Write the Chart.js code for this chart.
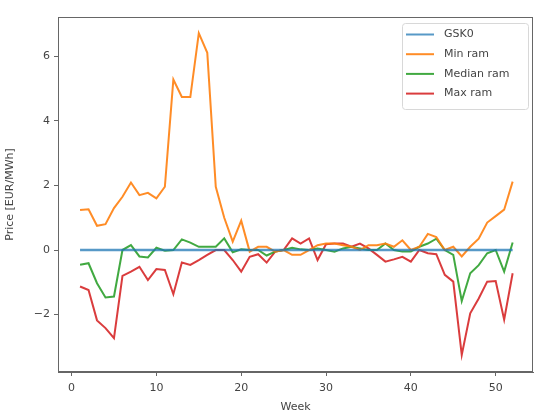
<!DOCTYPE html>
<html>
<head>
<meta charset="utf-8">
<script src="https://cdn.jsdelivr.net/npm/chart.js@4.4.1/dist/chart.umd.min.js"></script>
<style>
  html, body { margin: 0; padding: 0; background: #fff; }
  #wrap { width: 534px; height: 417px; }
</style>
</head>
<body>
<div id="wrap"><canvas id="priceChart" width="534" height="417"></canvas></div>
<script>
// Weekly price data
const weeks = Array.from({ length: 52 }, (_, i) => i + 1);
const gsk0 = weeks.map(() => 0);
const minRam = [1.24, 1.26, 0.75, 0.8, 1.3, 1.65, 2.09, 1.7, 1.77, 1.6,
                1.96, 5.28, 4.74, 4.74, 6.72, 6.11, 1.96, 1.0, 0.26, 0.91,
                -0.05, 0.1, 0.1, -0.05, 0.0, -0.15, -0.15, 0.0, 0.15, 0.2,
                0.2, 0.15, 0.1, 0.0, 0.15, 0.15, 0.2, 0.1, 0.3, 0.0,
                0.1, 0.5, 0.4, 0.0, 0.1, -0.2, 0.1, 0.35, 0.85, 1.05,
                1.25, 2.12];
const medianRam = [-0.46, -0.41, -1.03, -1.47, -1.44, 0.0, 0.15, -0.2, -0.23, 0.07,
                   -0.02, 0.0, 0.33, 0.23, 0.1, 0.1, 0.1, 0.36, -0.07, 0.02,
                   0.0, 0.0, -0.17, -0.05, 0.0, 0.07, 0.02, 0.0, 0.05, 0.0,
                   -0.05, 0.05, 0.1, 0.05, 0.0, 0.0, 0.2, 0.0, -0.05, -0.05,
                   0.1, 0.2, 0.35, 0.0, -0.15, -1.58, -0.72, -0.47, -0.1, 0.0,
                   -0.67, 0.23];
const maxRam = [-1.13, -1.24, -2.18, -2.42, -2.73, -0.8, -0.67, -0.52, -0.93, -0.59,
                -0.62, -1.37, -0.39, -0.46, -0.31, -0.15, 0.0, 0.0, -0.31, -0.67,
                -0.21, -0.13, -0.39, -0.05, 0.0, 0.36, 0.2, 0.36, -0.31, 0.18,
                0.2, 0.2, 0.1, 0.2, 0.05, -0.15, -0.36, -0.29, -0.21, -0.36,
                0.0, -0.1, -0.13, -0.77, -0.98, -3.25, -1.96, -1.5, -0.98, -0.96,
                -2.16, -0.72];
const xTicks = [0, 10, 20, 30, 40, 50];
const yTicks = [-2, 0, 2, 4, 6];

const seriesNames = ['GSK0', 'Min ram', 'Median ram', 'Max ram'];
const seriesColors = ['rgba(31,119,180,0.75)', 'rgba(255,127,14,0.9)', 'rgba(44,160,44,0.9)', 'rgba(214,39,40,0.9)'];
const seriesValues = [gsk0, minRam, medianRam, maxRam];

const axisColor = '#666';
const textColor = '#444';
const fontFamily = '"DejaVu Sans", sans-serif';

function toPoints(values) {
    return weeks.map((w, i) => ({ x: w, y: values[i] }));
}

function fmt(v) {
    return v < 0 ? '\u2212' + Math.abs(v) : String(v);
}

// frame + legend box drawn like matplotlib
const framePlugin = {
    id: 'frame',
    afterDraw(chart) {
        const { ctx, chartArea: a } = chart;
        ctx.save();
        ctx.strokeStyle = axisColor;
        ctx.lineWidth = 1;
        ctx.strokeRect(a.left + 0.5, a.top + 0.5, a.right - a.left - 1, a.bottom - a.top - 1);

        // legend
        const bx = 402, by = 23, bw = 126, bh = 86;
        ctx.fillStyle = 'rgba(255,255,255,0.85)';
        ctx.strokeStyle = '#d8d8d8';
        ctx.beginPath();
        ctx.roundRect(bx + 0.5, by + 0.5, bw, bh, 3);
        ctx.fill();
        ctx.stroke();
        ctx.font = '11px ' + fontFamily;
        ctx.textBaseline = 'middle';
        seriesNames.forEach((name, i) => {
            const yy = by + 11.5 + i * 19.7;
            ctx.strokeStyle = seriesColors[i];
            ctx.lineWidth = 2;
            ctx.beginPath();
            ctx.moveTo(bx + 4, yy);
            ctx.lineTo(bx + 32, yy);
            ctx.stroke();
            ctx.fillStyle = textColor;
            ctx.fillText(name, bx + 42, yy);
        });
        ctx.restore();
    }
};

new Chart(document.getElementById('priceChart').getContext('2d'), {
    type: 'line',
    data: {
        datasets: seriesNames.map((name, i) => ({
            label: name,
            data: toPoints(seriesValues[i]),
            borderColor: seriesColors[i],
            borderWidth: i === 0 ? 2.5 : 2,
            pointRadius: 0,
            tension: 0,
            fill: false
        }))
    },
    options: {
        responsive: false,
        animation: false,
        layout: { padding: { top: 17, right: 1, left: 0, bottom: 0 } },
        plugins: {
            legend: { display: false },
            tooltip: { enabled: false }
        },
        scales: {
            x: {
                type: 'linear',
                min: -1.6,
                max: 54.4,
                afterFit(scale) { scale.height = 45; },
                afterBuildTicks(scale) { scale.ticks = xTicks.map(v => ({ value: v })); },
                grid: { display: true, drawOnChartArea: false, drawTicks: true, tickLength: 4, color: axisColor },
                border: { display: true, color: axisColor },
                ticks: { color: textColor, font: { family: fontFamily, size: 11 }, padding: 6, maxRotation: 0, callback: fmt },
                title: { display: true, text: 'Week', color: textColor, font: { family: fontFamily, size: 11 }, padding: { top: 0, bottom: 3 } }
            },
            y: {
                type: 'linear',
                min: -3.78,
                max: 7.22,
                afterFit(scale) { scale.width = 58; },
                afterBuildTicks(scale) { scale.ticks = yTicks.map(v => ({ value: v })); },
                grid: { display: true, drawOnChartArea: false, drawTicks: true, tickLength: 4, color: axisColor },
                border: { display: true, color: axisColor },
                ticks: { color: textColor, font: { family: fontFamily, size: 11 }, padding: 4, callback: fmt },
                title: { display: true, text: 'Price [EUR/MWh]', color: textColor, font: { family: fontFamily, size: 11 }, padding: { top: 4, bottom: 4 } }
            }
        }
    },
    plugins: [framePlugin]
});
</script>
</body>
</html>
